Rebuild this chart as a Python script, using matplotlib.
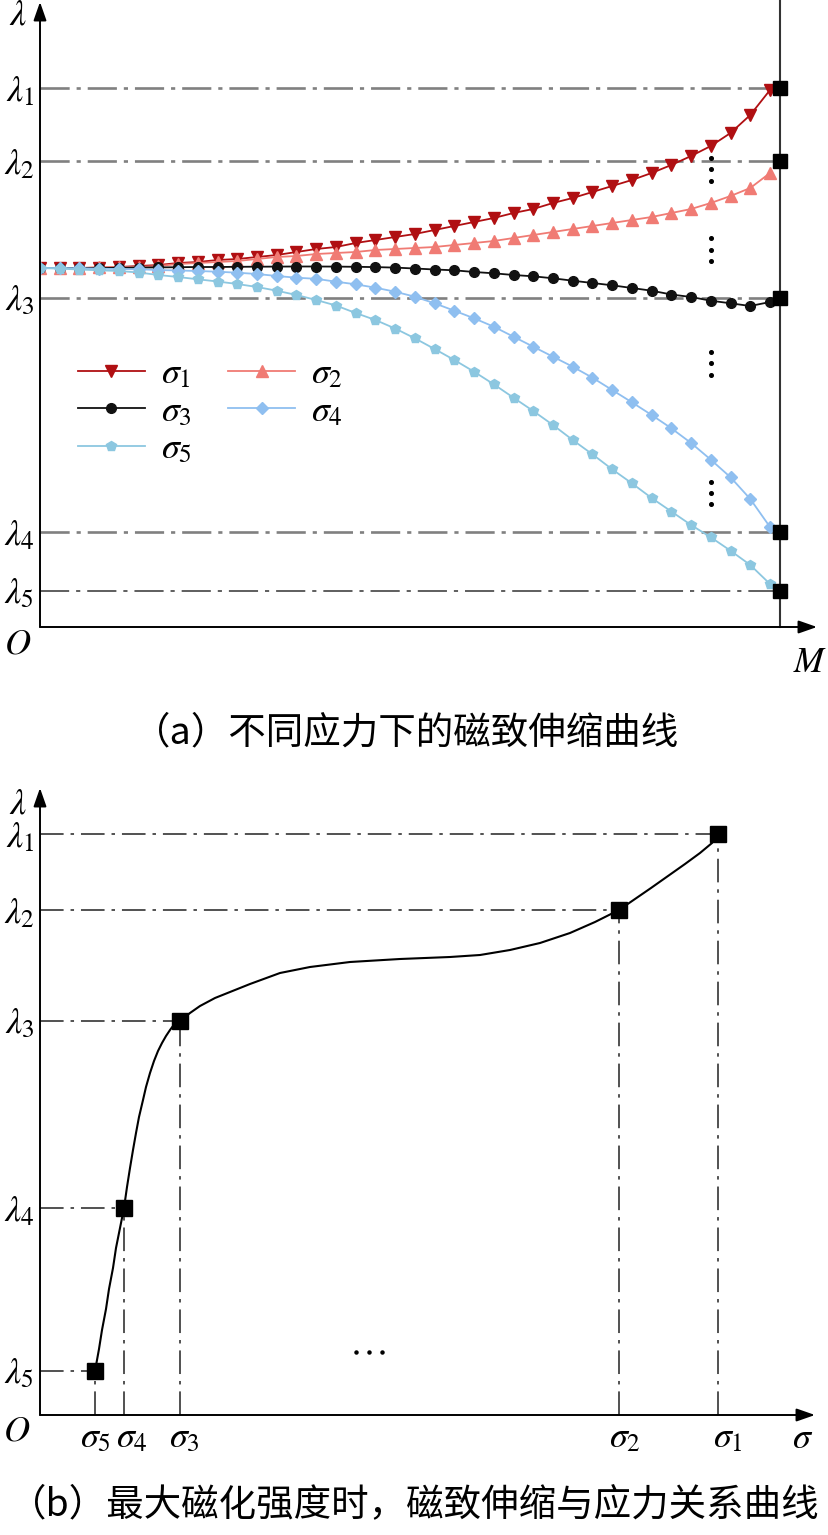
import numpy as np
import matplotlib
matplotlib.use('Agg')
import matplotlib.pyplot as plt
from matplotlib.transforms import ScaledTranslation

plt.rcParams['mathtext.fontset'] = 'stix'
plt.rcParams['font.family'] = ['Liberation Serif', 'DejaVu Sans']
plt.rcParams['lines.scale_dashes'] = False

W, H = 829, 1535

# ---------------- panel (a) data ----------------
M_vals = list(range(38))
sigma1 = [3.59, 3.59, 3.59, 3.59, 3.60, 3.61, 3.62, 3.64, 3.65, 3.67,
          3.68, 3.70, 3.72, 3.75, 3.78, 3.80, 3.84, 3.87, 3.90, 3.93,
          3.97, 4.01, 4.05, 4.09, 4.14, 4.18, 4.24, 4.29, 4.35, 4.41,
          4.47, 4.54, 4.62, 4.71, 4.81, 4.94, 5.12, 5.37]
sigma2 = [3.59, 3.59, 3.59, 3.60, 3.60, 3.60, 3.61, 3.63, 3.64, 3.65,
          3.66, 3.68, 3.70, 3.71, 3.73, 3.74, 3.75, 3.77, 3.78, 3.79,
          3.80, 3.82, 3.84, 3.86, 3.89, 3.92, 3.95, 3.98, 4.01, 4.04,
          4.07, 4.10, 4.14, 4.18, 4.24, 4.31, 4.39, 4.54]
sigma3 = [3.590, 3.590, 3.590, 3.590, 3.592, 3.594, 3.596, 3.598, 3.600, 3.600,
          3.602, 3.603, 3.604, 3.605, 3.605, 3.604, 3.602, 3.599, 3.594, 3.585,
          3.575, 3.567, 3.550, 3.537, 3.520, 3.507, 3.487, 3.463, 3.440, 3.417,
          3.390, 3.363, 3.325, 3.300, 3.263, 3.237, 3.210, 3.250]
sigma4 = [3.590, 3.590, 3.587, 3.583, 3.580, 3.577, 3.570, 3.565, 3.560, 3.553,
          3.543, 3.530, 3.510, 3.493, 3.482, 3.453, 3.427, 3.393, 3.353, 3.303,
          3.237, 3.163, 3.087, 3.003, 2.903, 2.803, 2.703, 2.603, 2.493, 2.370,
          2.247, 2.120, 1.987, 1.840, 1.673, 1.497, 1.280, 1.000]
sigma5 = [3.590, 3.583, 3.575, 3.567, 3.560, 3.545, 3.520, 3.500, 3.477, 3.455,
          3.430, 3.400, 3.363, 3.320, 3.270, 3.215, 3.140, 3.070, 2.985, 2.887,
          2.780, 2.670, 2.553, 2.427, 2.293, 2.160, 2.020, 1.870, 1.727, 1.577,
          1.437, 1.290, 1.155, 1.020, 0.897, 0.763, 0.620, 0.430]
M_max = 37.5
lam_levels_a = [5.39, 4.66, 3.29, 0.95, 0.36]
lam_labels_a = [r'$\lambda_1$', r'$\lambda_2$', r'$\lambda_3$', r'$\lambda_4$', r'$\lambda_5$']
legend_labels = [r'$\sigma_1$', r'$\sigma_2$', r'$\sigma_3$', r'$\sigma_4$', r'$\sigma_5$']
# vertical ellipsis dots (position M, and lambda)
vdots_M = 34.0
vdots_lam = [4.69, 4.58, 4.46, 3.89, 3.77, 3.66, 2.75, 2.64, 2.52, 1.45, 1.34, 1.23]

# ---------------- panel (b) data ----------------
sigma_pts = [0.55, 0.84, 1.40, 5.79, 6.78]
lam_pts = [0.44, 2.07, 3.94, 5.05, 5.81]
sigma_labels_b = [r'$\sigma_5$', r'$\sigma_4$', r'$\sigma_3$', r'$\sigma_2$', r'$\sigma_1$']
lam_labels_b = [r'$\lambda_5$', r'$\lambda_4$', r'$\lambda_3$', r'$\lambda_2$', r'$\lambda_1$']
curve_sigma = [0.55, 0.59, 0.62, 0.66, 0.69, 0.73, 0.76, 0.80, 0.84,
               0.87, 0.90, 0.93, 0.96, 0.99, 1.03, 1.06, 1.10, 1.14, 1.18, 1.22,
               1.26, 1.30, 1.33, 1.36, 1.40,
               1.50, 1.60, 1.75, 1.90, 2.10, 2.40, 2.70, 3.10, 3.60, 4.10, 4.40,
               4.70, 5.00, 5.30, 5.55, 5.79,
               5.95, 6.11, 6.28, 6.45, 6.60, 6.72, 6.78]
curve_lam = [0.44, 0.66, 0.85, 1.06, 1.26, 1.47, 1.67, 1.87, 2.07,
             2.28, 2.47, 2.65, 2.82, 2.98, 3.15, 3.28, 3.42, 3.54, 3.64, 3.72,
             3.79, 3.85, 3.89, 3.92, 3.94,
             4.02, 4.09, 4.17, 4.23, 4.31, 4.42, 4.48, 4.53, 4.56, 4.58, 4.60,
             4.65, 4.72, 4.82, 4.93, 5.05,
             5.16, 5.27, 5.39, 5.51, 5.62, 5.72, 5.81]
hdots_sigma = [3.16, 3.29, 3.42]
hdots_lam = 0.63

colors = ['#B00F12', '#F07B74', '#111111', '#8FBFF0', '#8CC7E0']
markers = ['v', '^', 'o', 'D', 'p']
msizes = [8.5, 8.5, 7.0, 6.3, 7.8]

fig = plt.figure(figsize=(W / 100, H / 100), dpi=100)


def px_axes(x0, y0, x1, y1):
    return fig.add_axes([x0 / W, 1 - y1 / H, (x1 - x0) / W, (y1 - y0) / H])


def ftext(x, y, s, **kw):
    fig.text(x / W, 1 - y / H, s, **kw)


arrow_kw = dict(arrowstyle='-|>,head_length=0.8,head_width=0.28', color='k',
                lw=1.4, mutation_scale=14, shrinkA=0, shrinkB=0)

LBL = 26

# ================= panel (a) =================
axA = px_axes(40, 0, 820, 627)
axA.set_xlim(0, 780 / 19.73)
axA.set_ylim(0, 6.27)
for sp in axA.spines.values():
    sp.set_visible(False)
axA.set_xticks([])
axA.set_yticks(lam_levels_a, lam_labels_a)
axA.tick_params(axis='y', length=0, pad=4, labelsize=LBL)

# reference dash-dot lines
for k, lv in enumerate(lam_levels_a):
    if k == 4:
        axA.plot([0, M_max], [lv, lv], color='#333333', lw=1.1,
                 linestyle=(0, (21, 5, 3, 5)), zorder=1)
    else:
        axA.plot([0, M_max], [lv, lv], color='#808080', lw=1.9,
                 linestyle=(0, (21, 5, 3, 5)), zorder=1)

# vertical line at maximum M
axA.plot([M_max, M_max], [0, 6.27], color='#333333', lw=1.5, zorder=2, clip_on=False)

series = [sigma1, sigma2, sigma3, sigma4, sigma5]
handles = []
for s, c, mk, ms, lab in zip(series, colors, markers, msizes, legend_labels):
    h, = axA.plot(M_vals, s, color=c, marker=mk, ms=ms, lw=1.3, mec=c, mfc=c,
                  label=lab, zorder=3)
    handles.append(h)
axA.plot([M_max] * 5, lam_levels_a, 's', color='k', ms=10, zorder=5, clip_on=False)

axA.plot([vdots_M] * len(vdots_lam), vdots_lam, 'o', color='k', ms=2.6, zorder=4)

# axes arrows
axA.annotate('', xy=(777 / 19.73, 0), xytext=(0, 0), xycoords='data',
             arrowprops=arrow_kw, annotation_clip=False)
axA.annotate('', xy=(0, 6.25), xytext=(0, 0), xycoords='data',
             arrowprops=arrow_kw, annotation_clip=False)

order = [0, 2, 4, 1, 3]
leg = axA.legend([handles[i] for i in order], [legend_labels[i] for i in order],
                 ncol=2, frameon=False, fontsize=26, handlelength=1.85,
                 handletextpad=0.45, columnspacing=1.0, labelspacing=0.12,
                 loc='upper left', bbox_to_anchor=(78 / W, 1 - 358 / H),
                 bbox_transform=fig.transFigure, borderaxespad=0, borderpad=0)

ftext(18, 16, r'$\lambda$', fontsize=LBL, ha='center', va='center')
ftext(18, 645, r'$O$', fontsize=LBL, ha='center', va='center')
ftext(810, 663, r'$M$', fontsize=LBL, ha='center', va='center')

ftext(406, 733, '（a）不同应力下的磁致伸缩曲线', fontsize=27,
      family=['Noto Sans CJK SC', 'DejaVu Sans'], ha='center', va='center')

# ================= panel (b) =================
axB = px_axes(40, 780, 820, 1415)
axB.set_xlim(0, 7.80)
axB.set_ylim(0, 6.35)
for sp in axB.spines.values():
    sp.set_visible(False)
axB.set_xticks(sigma_pts, sigma_labels_b)
axB.set_yticks(lam_pts, lam_labels_b)
axB.tick_params(axis='both', length=0, labelsize=LBL)
axB.tick_params(axis='y', pad=4)
axB.tick_params(axis='x', pad=5)
label_dx = [-15, -8, -11, -10, -5]
for lbl, dx in zip(axB.get_xticklabels(), label_dx):
    lbl.set_horizontalalignment('left')
    lbl.set_transform(lbl.get_transform() + ScaledTranslation(dx / 100, 0, fig.dpi_scale_trans))

for sv, lv in zip(sigma_pts, lam_pts):
    axB.plot([0, sv], [lv, lv], color='#222222', lw=1.1,
             linestyle=(0, (17, 5, 2.5, 5)), zorder=1)
    axB.plot([sv, sv], [0, lv], color='#222222', lw=1.1,
             linestyle=(0, (17, 5, 2.5, 5)), zorder=1)

axB.plot(curve_sigma, curve_lam, color='k', lw=1.5, zorder=2,
         solid_joinstyle='round')
axB.plot(sigma_pts, lam_pts, 's', color='k', ms=11, zorder=3)
axB.plot(hdots_sigma, [hdots_lam] * 3, 'o', color='k', ms=2.2, zorder=3)

axB.annotate('', xy=(775 / 100, 0), xytext=(0, 0), xycoords='data',
             arrowprops=arrow_kw, annotation_clip=False)
axB.annotate('', xy=(0, 6.27), xytext=(0, 0), xycoords='data',
             arrowprops=arrow_kw, annotation_clip=False)

ftext(18, 805, r'$\lambda$', fontsize=LBL, ha='center', va='center')
ftext(17, 1432, r'$O$', fontsize=LBL, ha='center', va='center')
ftext(803, 1440, r'$\sigma$', fontsize=LBL, ha='center', va='center')

ftext(414, 1505, '（b）最大磁化强度时，磁致伸缩与应力关系曲线', fontsize=27,
      family=['Noto Sans CJK SC', 'DejaVu Sans'], ha='center', va='center')

fig.savefig('out.png', dpi=100)
